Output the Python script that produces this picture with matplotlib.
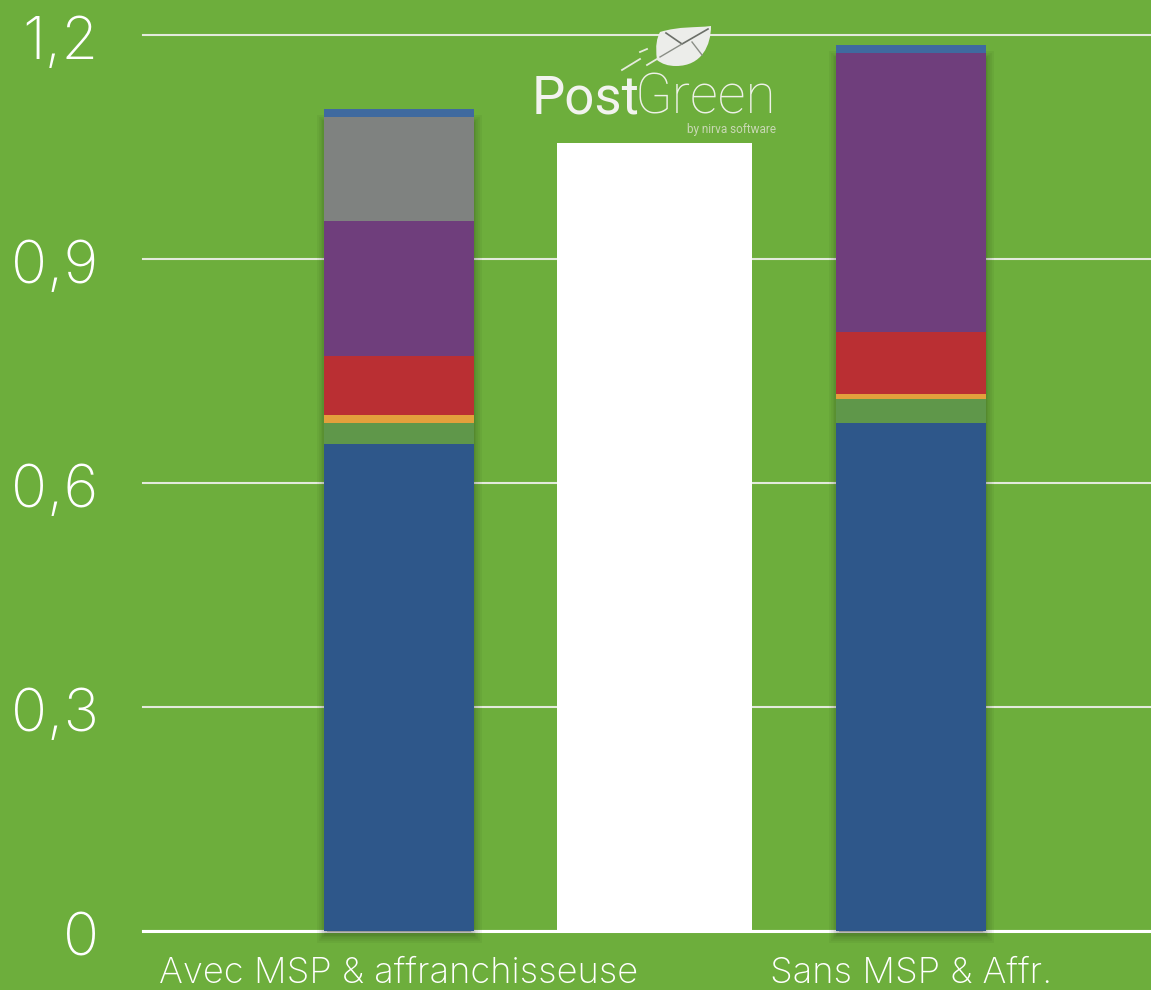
import numpy as np
import matplotlib.pyplot as plt
import matplotlib.patheffects as pe
from matplotlib.patches import PathPatch
from matplotlib.path import Path
from matplotlib.lines import Line2D
from matplotlib.transforms import Affine2D, ScaledTranslation

# data
categories = ['Avec MSP & affranchisseuse', 'Sans MSP & Affr.']
serie_bleue = [0.652, 0.680]
serie_verte = [0.028, 0.032]
serie_orange = [0.011, 0.007]
serie_rouge = [0.079, 0.083]
serie_violette = [0.181, 0.374]
serie_grise = [0.139, 0.0]
serie_haut = [0.011, 0.011]
y_ticks = [0, 0.3, 0.6, 0.9, 1.2]
y_labels = ['0', '0,3', '0,6', '0,9', '1,2']
masque_hauteur = 1.055

series = [serie_bleue, serie_verte, serie_orange, serie_rouge, serie_violette, serie_grise, serie_haut]
colors = ['#2E578A', '#5F974A', '#E3A03C', '#BA2F33', '#6F3E7C', '#7F8280', '#3F6A9F']

BG = '#6DAE3C'
W, H = 1151, 990
plt.rcParams['font.family'] = ['Inter', 'Roboto', 'DejaVu Sans']

fig = plt.figure(figsize=(W / 100, H / 100), dpi=100, facecolor=BG)
ax = fig.add_axes([143 / W, 1 - 931 / H, (W - 143) / W, (931 - 35) / H], facecolor=BG)

x = np.arange(len(categories))
bar_w = 0.293

# soft shadow behind the stacks, a bit lower than the bars
totals = np.sum(series, axis=0)
shadow = [pe.Stroke(linewidth=lw, foreground='black', alpha=0.045) for lw in (15, 12, 9, 7, 5, 3)]
for xi, total in zip(x, totals):
    b = ax.bar(xi, total - 0.02, bar_w - 0.012, bottom=-0.002, color='#999999', zorder=2, clip_on=False)[0]
    b.set_path_effects(shadow + [pe.Normal()])

bottom = np.zeros(len(categories))
for vals, col in zip(series, colors):
    ax.bar(x, vals, bar_w, bottom=bottom, color=col, zorder=3)
    bottom += np.array(vals)

# white block hiding the middle column
ax.bar(0.499, masque_hauteur, 0.381, color='white', zorder=3)

ax.set_xlim(-0.5, 1.469)
ax.set_ylim(0, 1.2)
ax.set_yticks(y_ticks)
ax.set_yticklabels(y_labels, fontsize=43, color='white', fontweight='light')
ax.set_xticks(x)
ax.set_xticklabels(categories, fontsize=26.2, color='white', fontweight='light')
ax.tick_params(axis='y', length=0, pad=32)
ax.tick_params(axis='x', length=0, pad=19)
down = ScaledTranslation(0, -3 / 100, fig.dpi_scale_trans)
for lab in ax.get_yticklabels():
    lab.set_transform(lab.get_transform() + down)
ax.grid(axis='y', color='#E3EADC', linewidth=1.5, zorder=1)
for gl in ax.get_ygridlines():
    gl.set_clip_on(False)
ax.set_axisbelow(True)
for s in ['top', 'left', 'right']:
    ax.spines[s].set_visible(False)
ax.spines['bottom'].set_color('white')
ax.spines['bottom'].set_linewidth(2.2)
ax.spines['bottom'].set_zorder(1.5)

# logo, placed in pixel coordinates
px = Affine2D().scale(1 / W, -1 / H).translate(0, 1) + fig.transFigure
leaf = Path(
    [(711, 26), (711, 45), (702, 66), (676, 66), (668, 66), (662, 64), (657, 60),
     (655, 45), (657, 38), (660, 32), (680, 26), (695, 28), (711, 26)],
    [Path.MOVETO, Path.CURVE4, Path.CURVE4, Path.CURVE4, Path.CURVE4, Path.CURVE4, Path.CURVE4,
     Path.CURVE4, Path.CURVE4, Path.CURVE4, Path.CURVE4, Path.CURVE4, Path.CURVE4])
fig.add_artist(PathPatch(leaf, facecolor='#ECEDEA', edgecolor='none', transform=px, zorder=5))
for xs, ys, c, lw in [((666, 682, 708), (33, 44, 29), '#6B6F68', 1.2),
                      ((660, 682), (57, 44), '#8A8E86', 1.0),
                      ((692, 702), (42, 55), '#8A8E86', 1.0),
                      ((622, 640), (70, 59), '#E6EBDD', 1.3),
                      ((640, 647), (52, 49), '#E6EBDD', 1.3),
                      ((647, 657), (65, 59), '#E6EBDD', 1.3)]:
    fig.add_artist(Line2D(xs, ys, color=c, linewidth=lw, transform=px, zorder=6))

fig.text(532, 113, 'Post', transform=px, fontsize=38, color='#F2F3EF', family=['Roboto', 'DejaVu Sans'],
         ha='left', va='baseline', zorder=6)
fig.text(776, 113, 'Green', transform=px, fontsize=39.5, color='#EEF1E8', family=['Roboto', 'DejaVu Sans'],
         fontweight='light', ha='right', va='baseline', zorder=6)
fig.text(776, 133, 'by nirva software', transform=px, fontsize=8.5, color='#C9D8B5',
         family=['Roboto', 'DejaVu Sans'], ha='right', va='baseline', zorder=6)

fig.savefig('out.png', dpi=100, facecolor=BG)
